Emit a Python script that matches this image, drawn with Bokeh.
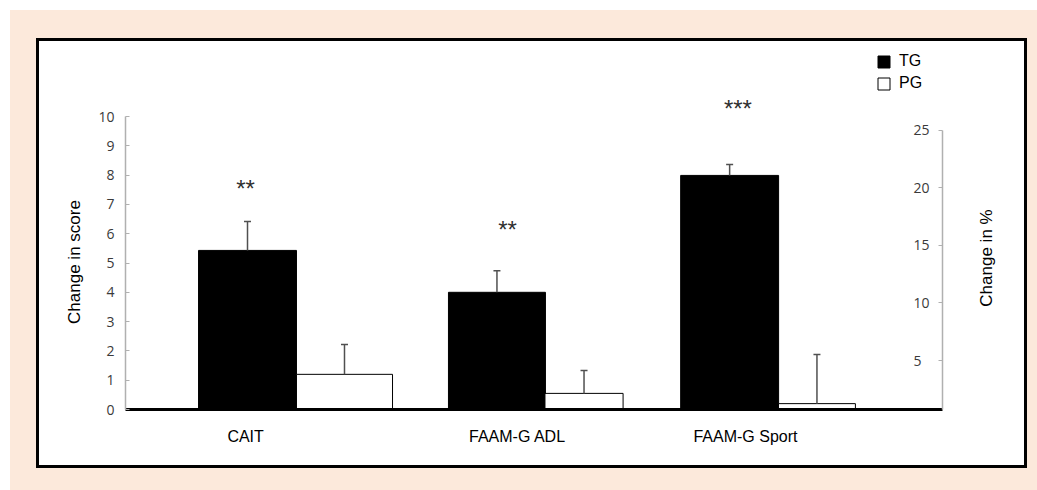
from bokeh.plotting import figure
from bokeh.models import (Range1d, LinearAxis, FixedTicker, CustomJSTickFormatter,
                          ColumnDataSource, Whisker, TeeHead, Legend, LegendItem, Spacer, Div)
from bokeh.layouts import column, row
from bokeh.core.properties import value
from bokeh.embed import file_html
from bokeh.resources import INLINE

# ---- data ----
groups = ["CAIT", "FAAM-G ADL", "FAAM-G Sport"]
tg_mean = [5.43, 4.00, 7.99]
tg_err = [0.99, 0.74, 0.37]
pg_mean = [1.20, 0.55, 0.20]
pg_err = [1.02, 0.78, 1.68]
stars = ["**", "**", "***"]
star_level = [7.55, 6.15, 10.27]
left_ticks = [0, 1, 2, 3, 4, 5, 6, 7, 8, 9, 10]
right_ticks = [5, 10, 15, 20, 25]
left_title = "Change in score"
right_title = "Change in %"

# ---- layout / style (positions in category units) ----
tg_off = [-0.212, -0.155, -0.169]
pg_off = [0.199, 0.214, 0.201]
tg_w = [0.415, 0.411, 0.415]
pg_w = [0.407, 0.331, 0.326]
star_off = [-0.22, -0.11, -0.134]
label_off = [-0.22, -0.068, -0.102]

idx = list(range(len(groups)))
tg_x = [i + o for i, o in zip(idx, tg_off)]
pg_x = [i + o for i, o in zip(idx, pg_off)]

tg_src = ColumnDataSource(dict(x=tg_x, top=tg_mean, w=tg_w,
                               up=[m + e for m, e in zip(tg_mean, tg_err)]))
pg_src = ColumnDataSource(dict(x=pg_x, top=pg_mean, w=pg_w,
                               up=[m + e for m, e in zip(pg_mean, pg_err)]))
star_src = ColumnDataSource(dict(x=[i + o for i, o in zip(idx, star_off)],
                                 y=star_level, t=stars))

FONT_A = "Liberation Sans"
FONT_T = "Open Sans"

p = figure(width=882, height=424, output_backend="svg", toolbar_location=None,
           x_range=Range1d(-0.729, 2.733), y_range=Range1d(0, 12.39),
           min_border_left=35, min_border_right=30, min_border_top=5, min_border_bottom=56)
p.extra_y_ranges = {"pct": Range1d(0.74, 32.3)}
p.background_fill_color = "white"
p.border_fill_color = "white"
p.outline_line_color = None
p.xgrid.visible = False
p.ygrid.visible = False

r_tg = p.vbar(x="x", top="top", width="w", bottom=0, source=tg_src,
              fill_color="black", line_color="black", line_width=1)
r_pg = p.vbar(x="x", top="top", width="w", bottom=0, source=pg_src,
              fill_color="white", line_color="black", line_width=1)

for src in (tg_src, pg_src):
    w = Whisker(source=src, base="x", lower="top", upper="up", dimension="height",
                line_color="#505050", line_width=1.5, lower_head=None,
                upper_head=TeeHead(size=7, line_color="#505050", line_width=1.5))
    w.level = "glyph"
    p.add_layout(w)

p.text(x="x", y="y", text="t", source=star_src, text_align="center",
       text_baseline="alphabetic", text_font=value(FONT_A), text_font_size="24px",
       text_color="#303030")

# x axis = baseline
xa = p.xaxis[0]
xa.ticker = FixedTicker(ticks=[i + o for i, o in zip(idx, label_off)])
xa.formatter = CustomJSTickFormatter(args=dict(labels=groups), code="return labels[index];")
xa.axis_line_width = 3
xa.axis_line_color = "black"
xa.major_tick_in = 0
xa.major_tick_out = 0
xa.minor_tick_in = 0
xa.minor_tick_out = 0
xa.major_label_standoff = 18
xa.major_label_text_font = FONT_A
xa.major_label_text_font_size = "16px"
xa.major_label_text_color = "black"

# left axis
ya = p.yaxis[0]
ya.ticker = FixedTicker(ticks=left_ticks)
ya.bounds = (0, 10)
ya.axis_line_color = "#b0b0b0"
ya.axis_line_width = 1.5
ya.major_tick_line_color = "#b0b0b0"
ya.major_tick_in = 4
ya.major_tick_out = 0
ya.minor_tick_in = 0
ya.minor_tick_out = 0
ya.major_label_standoff = 11
ya.major_label_text_font = FONT_T
ya.major_label_text_font_size = "14px"
ya.major_label_text_color = "#3a3a3a"

# right axis (labels sit inside, left of the axis line)
ra = LinearAxis(y_range_name="pct", ticker=FixedTicker(ticks=right_ticks), bounds=(0.74, 25))
ra.axis_line_color = "#b0b0b0"
ra.axis_line_width = 1.5
ra.major_tick_line_color = "#b0b0b0"
ra.major_tick_in = 4
ra.major_tick_out = 0
ra.minor_tick_in = 0
ra.minor_tick_out = 0
ra.major_label_standoff = -29
ra.major_label_text_font = FONT_T
ra.major_label_text_font_size = "14px"
ra.major_label_text_color = "#3a3a3a"
p.add_layout(ra, "right")

legend = Legend(items=[LegendItem(label="TG", renderers=[r_tg]),
                       LegendItem(label="PG", renderers=[r_pg])],
                location=(751, 317), orientation="vertical",
                glyph_width=15, glyph_height=15, label_height=15, spacing=4,
                padding=0, margin=0, label_standoff=8,
                border_line_alpha=0, background_fill_alpha=0,
                label_text_font=FONT_A, label_text_font_size="16px", label_text_color="black")
p.add_layout(legend, "center")


def vtitle(text, width, cx, cy):
    html = (f'<div style="position:relative;width:{width}px;height:424px;background:#ffffff;">'
            f'<span style="position:absolute;left:{cx}px;top:{cy}px;'
            f'transform:translate(-50%,-50%) rotate(-90deg);white-space:nowrap;'
            f"font-family:'Liberation Sans';font-size:17px;color:#000000;\">{text}</span></div>")
    return Div(text=html, width=width, height=424, margin=0,
               styles={"background-color": "#ffffff"})


left_div = vtitle(left_title, 51, 36, 221)
right_div = vtitle(right_title, 52, 15, 217)

inner = column(row(left_div, p, right_div, styles={"background-color": "#ffffff"}),
               styles={"border": "3px solid #000000", "background-color": "#ffffff"})
peach = column(Spacer(height=28, width=10),
               row(Spacer(width=26, height=10), inner, Spacer(width=10, height=10)),
               Spacer(height=22, width=10),
               styles={"background-color": "#FCE9DB"})
page = column(Spacer(height=10, width=10), row(Spacer(width=10, height=10), peach))

open("out.html", "w").write(file_html(page, INLINE))
